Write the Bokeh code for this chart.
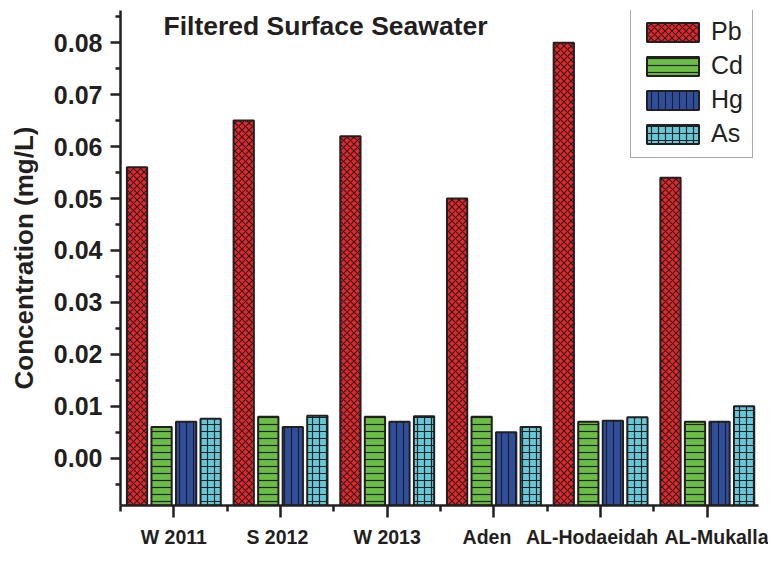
from bokeh.plotting import figure
from bokeh.models import (ColumnDataSource, FixedTicker, Range1d, Label, Legend,
                          LegendItem, PrintfTickFormatter, LinearAxis, CustomJSTickFormatter)
from bokeh.transform import dodge
from bokeh.embed import file_html
from bokeh.resources import INLINE

# ---- data ----
sites = ["W 2011", "S 2012", "W 2013", "Aden", "AL-Hodaeidah", "AL-Mukalla"]
site_pos = [1, 2, 3, 4, 5, 6]
pb = [0.056, 0.065, 0.062, 0.050, 0.080, 0.054]
cd = [0.006, 0.008, 0.008, 0.008, 0.007, 0.007]
hg = [0.007, 0.006, 0.007, 0.005, 0.0072, 0.007]
as_ = [0.0076, 0.0082, 0.0081, 0.006, 0.0079, 0.010]
series_names = ["Pb", "Cd", "Hg", "As"]
y_ticks = [0.00, 0.01, 0.02, 0.03, 0.04, 0.05, 0.06, 0.07, 0.08]
y_minor_ticks = [-0.005, 0.005, 0.015, 0.025, 0.035, 0.045, 0.055, 0.065, 0.075, 0.085]
x_minor_ticks = [0.5, 1.5, 2.5, 3.5, 4.5, 5.5, 6.5]

# ---- style ----
FONT = "Liberation Sans"
INK = "#231f20"
colors = ["#ee2327", "#6abd45", "#2e4e9e", "#62c9d9"]
hatches = ["diagonal_cross", "horizontal_line", "vertical_line", "cross"]
offsets = [-0.345, -0.115, 0.115, 0.345]
bar_w = 0.19
# horizontal nudges of the category names (in x units), as in the original figure
label_nudge = [0.0, -0.03, 0.0, -0.065, -0.08, 0.195]

x_start, x_end = 0.5, 6.48
y_start, y_end = -0.0091, 0.0862

src = ColumnDataSource(dict(x=site_pos, Pb=pb, Cd=cd, Hg=hg, As=as_))

p = figure(width=768, height=550, output_backend="svg", toolbar_location=None,
           x_range=Range1d(x_start, x_end), y_range=Range1d(y_start, y_end),
           min_border_left=120, min_border_right=10, min_border_top=10,
           min_border_bottom=43)
p.outline_line_color = None
p.xgrid.visible = False
p.ygrid.visible = False
p.background_fill_color = "white"
p.border_fill_color = "white"

renderers = []
for name, col, hat, off in zip(series_names, colors, hatches, offsets):
    r = p.vbar(x=dodge("x", off), top=name, bottom=y_start, width=bar_w, source=src,
               fill_color=col, line_color=INK, line_width=2,
               hatch_pattern=hat, hatch_color=INK, hatch_weight=1.2,
               hatch_scale=7)
    renderers.append(r)

# axes
xa = p.xaxis[0]
xa.ticker = FixedTicker(ticks=site_pos, minor_ticks=x_minor_ticks)
xa.major_label_text_font_size = "1px"
xa.major_label_text_color = None
xa.major_label_standoff = 0
ya = p.yaxis[0]
ya.ticker = FixedTicker(ticks=y_ticks, minor_ticks=y_minor_ticks)
ya.formatter = PrintfTickFormatter(format="%.2f")
ya.axis_label = "Concentration (mg/L)"

for ax in (xa, ya):
    ax.axis_line_color = INK
    ax.axis_line_width = 2.5
    ax.major_tick_line_color = INK
    ax.major_tick_line_width = 2.5
    ax.minor_tick_line_color = INK
    ax.minor_tick_line_width = 2.5
    ax.major_tick_in = 0
    ax.minor_tick_in = 0
    ax.major_label_text_font = FONT
    ax.major_label_text_font_style = "bold"
    ax.axis_label_text_font = FONT
    ax.axis_label_text_font_style = "bold"
    ax.axis_label_text_color = INK
ya.major_label_text_color = INK

xa.major_tick_out = 12
xa.minor_tick_out = 6
ya.major_tick_out = 10
ya.minor_tick_out = 5
ya.major_label_text_font_size = "25px"
ya.major_label_standoff = 8
ya.axis_label_text_font_size = "26px"
ya.axis_label_standoff = 12

# category names: a line-less axis under the tick axis
name_axis = LinearAxis(
    ticker=FixedTicker(ticks=[pos + n for pos, n in zip(site_pos, label_nudge)], minor_ticks=[]),
    formatter=CustomJSTickFormatter(args=dict(names=sites), code="return names[index]"))
name_axis.axis_line_color = None
name_axis.major_tick_line_color = None
name_axis.minor_tick_line_color = None
name_axis.major_tick_out = 0
name_axis.major_tick_in = 0
name_axis.major_label_standoff = 8
name_axis.major_label_text_font = FONT
name_axis.major_label_text_font_style = "bold"
name_axis.major_label_text_font_size = "19.5px"
name_axis.major_label_text_color = INK
p.add_layout(name_axis, "below")

# title inside plot
p.add_layout(Label(x=0.903, y=0.0832, text="Filtered Surface Seawater",
                   text_font=FONT, text_font_style="bold", text_font_size="26.5px",
                   text_color=INK, text_baseline="alphabetic"))

legend = Legend(items=[LegendItem(label=n, renderers=[r]) for n, r in zip(series_names, renderers)],
                location=(510, 347))
legend.glyph_width = 65
legend.glyph_height = 24
legend.label_text_font = FONT
legend.label_text_font_size = "25px"
legend.label_text_color = INK
legend.label_standoff = 6
legend.label_height = 24
legend.spacing = 5
legend.padding = 9
legend.margin = 0
legend.border_line_color = "#555555"
legend.border_line_width = 1.5
legend.background_fill_alpha = 1
p.add_layout(legend)

open("out.html", "w").write(file_html(p, INLINE))
